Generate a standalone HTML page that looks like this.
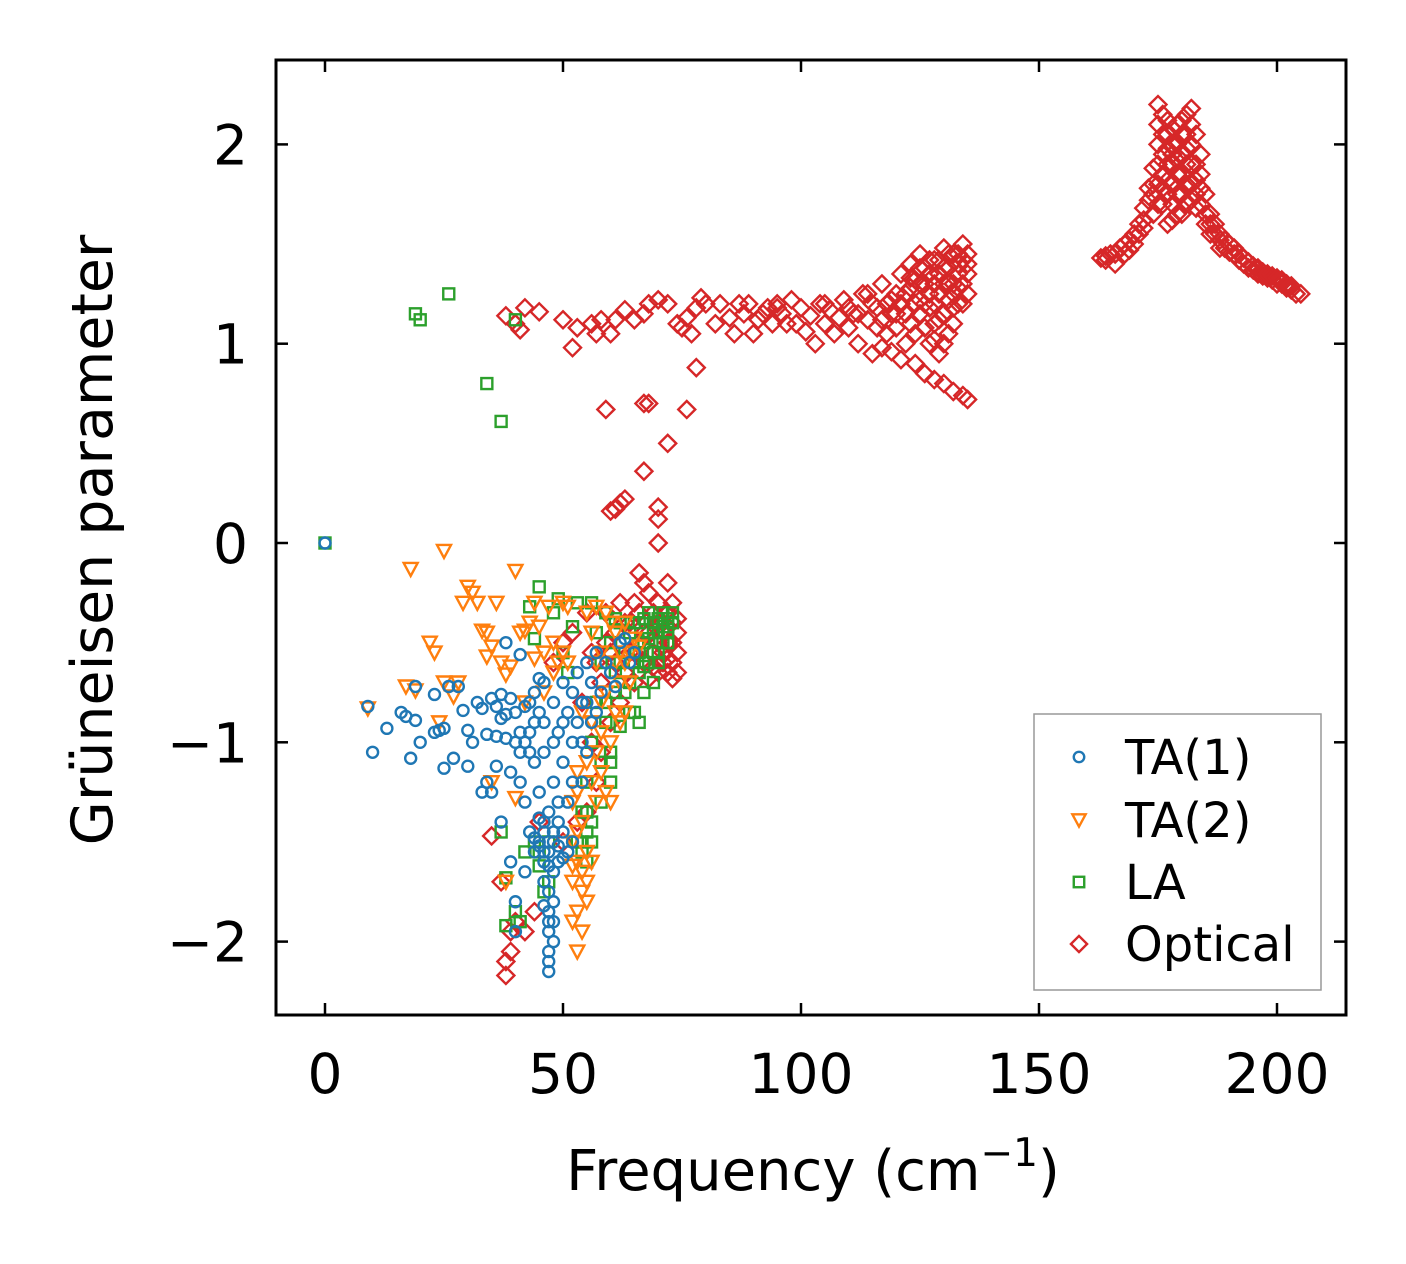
<!DOCTYPE html>
<html><head><meta charset="utf-8"><style>
html,body{margin:0;padding:0;background:#fff;}
svg{display:block;font-family:"DejaVu Sans","Liberation Sans",sans-serif;}
</style></head><body>
<svg id="chart" width="1406" height="1264" viewBox="0 0 1406 1264" xmlns="http://www.w3.org/2000/svg">
<rect x="0" y="0" width="1406" height="1264" fill="#fff"/>
<g id="marks"></g>
<g id="axes"></g>
</svg>
<script>
const xTicks=[0,50,100,150,200];
const yTicks=[-2,-1,0,1,2];
const yTickLabels=["\u22122","\u22121","0","1","2"];
const seriesNames=["TA(1)","TA(2)","LA","Optical"];
const ta1=[[0,0],[9,-0.82],[10,-1.05],[13,-0.93],[16,-0.85],[17,-0.87],[18,-1.08],[19,-0.72],[19,-0.89],[20,-1.0],[23,-0.95],[23,-0.76],[24,-0.94],[25,-0.93],[26,-0.72],[25,-1.13],[27,-1.08],[28,-0.72],[29,-0.84],[30,-0.94],[30,-1.12],[31,-1.0],[32,-0.8],[33,-0.83],[33,-1.25],[34,-0.96],[34,-1.2],[35,-0.78],[35,-1.25],[36,-0.97],[36,-1.12],[37,-0.76],[37,-1.4],[38,-0.5],[38,-0.98],[38,-0.86],[39,-0.78],[39,-1.15],[39,-1.6],[40,-0.85],[40,-1.0],[40,-1.8],[40,-1.95],[41,-0.56],[41,-1.05],[41,-1.2],[42,-1.3],[42,-0.82],[42,-1.65],[43,-0.95],[43,-1.45],[44,-0.75],[44,-1.1],[44,-1.55],[45,-0.68],[45,-0.85],[45,-1.25],[45,-1.5],[46,-0.9],[46,-1.05],[46,-1.4],[46,-1.6],[47,-1.75],[47,-1.85],[47,-1.95],[47,-2.05],[47,-2.15],[48,-1.5],[48,-1.2],[48,-0.8],[48,-2.0],[49,-1.3],[49,-0.95],[49,-1.6],[50,-0.7],[50,-1.1],[50,-1.45],[51,-0.85],[51,-1.55],[52,-0.75],[52,-1.0],[53,-0.9],[53,-0.65],[54,-1.2],[54,-0.8],[55,-0.6],[55,-1.05],[56,-0.7],[57,-0.55],[57,-0.85],[58,-0.75],[59,-0.6],[60,-0.65],[61,-0.72],[62,-0.5],[63,-0.48],[64,-0.6],[65,-0.55],[46,-1.45],[47,-1.55],[48,-1.65],[44,-1.48],[45,-1.52],[50,-1.58],[52,-1.5],[47,-1.35],[47,-1.9],[47,-2.1],[48,-1.8],[46,-1.7],[49,-1.4],[51,-1.3],[43,-1.05],[42,-1.0],[44,-0.9],[46,-0.7],[48,-1.0],[50,-0.9],[52,-1.2],[45,-1.38],[46,-1.55],[48,-1.45],[49,-1.52],[47,-1.62],[46,-1.82],[48,-1.9],[41,-0.95],[37,-0.88],[36,-0.82],[43,-0.8],[55,-0.8],[56,-0.9],[54,-1.0]];
const ta2=[[9,-0.83],[17,-0.72],[18,-0.13],[19,-0.74],[22,-0.5],[23,-0.55],[24,-0.9],[25,-0.04],[25,-0.7],[27,-0.77],[28,-0.7],[29,-0.3],[30,-0.22],[31,-0.25],[32,-0.3],[33,-0.44],[34,-0.45],[34,-0.57],[35,-0.52],[35,-1.2],[36,-0.3],[37,-0.6],[38,-0.66],[38,-1.7],[39,-0.62],[40,-0.14],[40,-1.28],[41,-0.45],[42,-0.44],[42,-0.8],[43,-0.4],[44,-0.3],[44,-0.58],[45,-0.42],[46,-0.55],[46,-0.75],[47,-0.32],[48,-0.5],[48,-0.65],[49,-0.6],[50,-0.3],[50,-0.55],[51,-0.32],[51,-0.6],[52,-1.3],[52,-1.5],[52,-1.7],[52,-1.9],[53,-2.05],[53,-1.6],[53,-1.25],[54,-1.75],[54,-1.4],[55,-1.8],[55,-0.35],[56,-1.6],[56,-0.45],[57,-1.3],[57,-0.32],[58,-0.55],[58,-0.95],[59,-1.25],[59,-0.75],[60,-1.0],[60,-1.3],[61,-0.6],[61,-0.45],[62,-0.7],[62,-0.9],[63,-0.85],[63,-0.6],[64,-0.55],[65,-0.48],[66,-0.52],[53,-1.15],[55,-1.55],[54,-0.85],[53,-1.85],[54,-1.95],[56,-0.9],[58,-1.15],[60,-0.4],[63,-0.4],[59,-0.35],[57,-0.6],[54,-1.65],[55,-1.7],[53,-1.45],[52,-1.62],[56,-1.2],[55,-1.1],[57,-1.05],[58,-0.8],[61,-0.85],[62,-0.55],[64,-0.7]];
const la=[[0,0],[19,1.15],[20,1.12],[26,1.25],[34,0.8],[37,0.61],[40,1.12],[37,-1.45],[38,-1.68],[38,-1.92],[40,-1.85],[41,-1.9],[42,-1.55],[43,-0.32],[45,-0.22],[44,-0.48],[45,-1.62],[46,-1.75],[47,-1.5],[48,-0.35],[49,-0.28],[50,-0.55],[51,-0.65],[52,-0.42],[53,-0.3],[54,-1.55],[54,-1.35],[55,-1.45],[55,-1.2],[56,-0.3],[56,-1.5],[57,-0.45],[57,-0.8],[58,-1.1],[58,-0.6],[59,-0.9],[60,-1.05],[60,-1.2],[60,-0.5],[61,-0.75],[61,-0.38],[62,-0.92],[63,-0.55],[64,-0.45],[64,-0.7],[65,-0.85],[65,-0.6],[66,-0.4],[66,-0.9],[67,-0.5],[67,-0.75],[68,-0.35],[68,-0.6],[69,-0.45],[69,-0.7],[70,-0.38],[70,-0.55],[71,-0.42],[71,-0.35],[72,-0.38],[72,-0.5],[73,-0.4],[59,-0.35],[62,-0.6],[66,-0.65],[68,-0.48],[55,-1.6],[56,-1.0],[58,-1.3],[53,-1.5],[62,-0.4],[65,-0.4],[70,-0.45],[72,-0.45],[67,-0.38],[69,-0.4],[71,-0.5],[55,-1.35],[56,-1.4],[54,-1.5],[60,-1.1],[59,-0.8],[61,-0.65],[63,-0.75],[64,-0.85],[66,-0.55],[67,-0.62],[69,-0.55],[70,-0.6],[72,-0.42],[73,-0.35],[45,-1.55],[44,-1.5],[47,-1.7]];
const optical=[[35,-1.47],[37,-1.7],[38,-2.1],[38,-2.17],[39,-2.05],[39,-1.95],[40,-1.9],[42,-1.95],[44,-1.85],[45,-1.4],[48,-0.6],[50,-0.5],[52,-0.45],[54,-0.8],[55,-0.35],[56,-1.0],[57,-0.6],[58,-0.7],[59,-0.35],[60,-0.55],[61,-0.45],[62,-0.3],[62,-0.8],[63,-0.4],[63,-0.65],[64,-0.55],[65,-0.3],[65,-0.7],[66,-0.15],[66,-0.5],[67,-0.2],[67,-0.6],[68,-0.25],[68,-0.45],[69,-0.35],[69,-0.55],[70,-0.3],[70,-0.65],[71,-0.45],[71,-0.6],[72,-0.2],[72,-0.5],[73,-0.4],[73,-0.6],[74,-0.55],[74,-0.45],[73,-0.5],[72,-0.65],[71,-0.55],[70,-0.5],[74,-0.65],[73,-0.3],[72,-0.35],[60,-0.9],[58,-1.05],[57,-1.2],[55,-1.35],[53,-1.4],[50,-1.5],[71,-0.4],[72,-0.58],[73,-0.68],[74,-0.38],[70,-0.4],[69,-0.62],[68,-0.68],[67,-0.45],[66,-0.35],[65,-0.55],[64,-0.4],[61,-0.6],[59,-0.5],[56,-0.55],
[60,0.16],[61,0.17],[62,0.2],[63,0.22],[67,0.36],[70,0],[70,0.12],[70,0.18],[72,0.5],[68,0.7],[67,0.7],[59,0.67],[76,0.67],[78,0.88],
[38,1.14],[40,1.1],[41,1.07],[42,1.18],[45,1.16],[50,1.12],[52,0.98],[53,1.08],[56,1.1],[57,1.05],[58,1.12],[60,1.05],[61,1.12],[63,1.17],[65,1.12],[67,1.15],[68,1.2],[70,1.22],[72,1.2],[74,1.1],[75,1.08],[76,1.13],[77,1.05],[78,1.18],[79,1.23],[80,1.2],[82,1.1],[83,1.2],[85,1.13],[86,1.05],[88,1.15],[89,1.2],[90,1.05],[91,1.12],[93,1.18],[94,1.1],[95,1.2],[96,1.15],[98,1.22],[99,1.1],[100,1.18],[101,1.06],[102,1.14],[103,1.0],[104,1.2],[105,1.1],[106,1.17],[107,1.05],[108,1.13],[109,1.22],[110,1.08],[111,1.15],[112,1.0],[113,1.25],[114,1.12],[115,0.95],[116,1.18],[117,1.3],[118,1.05],[119,1.22],[120,1.15],[121,1.35],[121,0.92],[122,1.25],[123,1.4],[123,1.1],[124,0.9],[125,1.3],[125,1.45],[126,1.2],[126,0.85],[127,1.35],[128,1.42],[128,1.1],[128,0.82],[129,1.25],[130,1.48],[130,1.15],[130,0.8],[131,1.38],[131,1.05],[132,1.3],[132,1.45],[132,0.76],[133,1.2],[133,1.4],[134,1.5],[134,0.74],[135,1.35],[135,0.72],[135,1.45],[127,1.0],[129,0.95],[122,1.0],[124,1.32],[118,1.2],[116,1.08],[114,1.25],[126,1.38],[133,1.28],[135,1.25],[131,1.22],[119,0.96],[117,0.98],[129,1.35],[127,1.25],[125,1.15],[134,1.3],[132,1.18],[130,1.3],[128,1.3],[120,1.25],[124,1.2],[110,1.18],[112,1.15],[115,1.2],[117,1.12],[119,1.15],[121,1.2],[123,1.28],[125,1.22],[127,1.18],[129,1.12],[131,1.3],[133,1.35],[126,1.3],[128,1.2],[130,1.38],[132,1.25],[134,1.42],[124,1.05],[122,1.15],[120,1.08],[126,1.08],[128,1.02],[130,1.0],[132,1.1],[134,1.2],[135,1.4],[133,1.45],[131,1.45],[129,1.42],[127,1.42],[125,1.38],[123,1.33],[105,1.2],[95,1.18],[92,1.15],[87,1.2],[97,1.1],
[163,1.43],[164,1.42],[165,1.45],[166,1.4],[167,1.48],[168,1.5],[169,1.47],[170,1.55],[171,1.6],[172,1.58],[172,1.68],[173,1.72],[174,1.8],[174,1.65],[175,1.9],[175,2.0],[175,2.1],[175,2.2],[176,1.85],[176,1.95],[176,2.15],[177,1.75],[177,2.05],[177,1.6],[178,1.9],[178,2.0],[178,1.7],[179,1.85],[179,1.65],[179,2.1],[180,1.95],[180,1.75],[180,2.05],[181,1.9],[181,2.15],[182,2.18],[182,2.0],[182,1.8],[183,1.9],[183,2.05],[184,1.85],[184,1.7],[185,1.65],[185,1.75],[186,1.6],[187,1.55],[188,1.52],[189,1.48],[190,1.46],[191,1.45],[192,1.42],[193,1.4],[194,1.38],[195,1.37],[196,1.35],[197,1.34],[198,1.33],[199,1.32],[200,1.3],[201,1.3],[202,1.28],[203,1.27],[204,1.25],[205,1.25],[176,1.7],[174,1.75],[181,1.7],[183,1.75],[185,1.6],[186,1.55],[188,1.48],[177,1.9],[179,2.0],[181,2.05],[178,1.8],[180,1.85],[175,1.8],[175,1.7],[176,2.05],[176,1.78],[177,1.82],[177,1.98],[177,2.12],[178,1.62],[178,1.95],[178,2.08],[179,1.75],[179,1.92],[180,1.65],[180,2.12],[181,1.8],[181,1.98],[182,1.72],[182,1.9],[182,2.1],[183,1.82],[183,1.68],[184,1.78],[184,1.95],[174,1.88],[173,1.78],[172,1.62],[171,1.55],[170,1.5],[169,1.52],[168,1.45],[166,1.45],[164,1.44],[186,1.65],[187,1.6],[188,1.55],[189,1.52],[190,1.5],[191,1.48],[192,1.45],[193,1.43],[194,1.41],[195,1.39],[196,1.38],[197,1.36],[198,1.35],[199,1.34],[200,1.33],[201,1.32],[202,1.3],[203,1.29]];

const L=276,R=1346,T=60,B=1015;
const xs=v=>325+v*(1277-325)/200;
const ys=v=>543-v*199.3;
const NS="http://www.w3.org/2000/svg";
function mk(tag,attrs,parent){const e=document.createElementNS(NS,tag);for(const k in attrs)e.setAttribute(k,attrs[k]);parent.appendChild(e);return e;}
const marks=document.getElementById('marks');
const axes=document.getElementById('axes');
function marker(type,cx,cy,color,parent,s){
  let e;
  if(type==='circle'){e=mk('circle',{cx:cx,cy:cy,r:5.5*s},parent);}
  else if(type==='tri'){e=mk('polygon',{points:`${cx-7*s},${cy-6*s} ${cx+7*s},${cy-6*s} ${cx},${cy+7*s}`},parent);}
  else if(type==='square'){e=mk('rect',{x:cx-5.5*s,y:cy-5.5*s,width:11*s,height:11*s},parent);}
  else {e=mk('polygon',{points:`${cx},${cy-8.5*s} ${cx+8.5*s},${cy} ${cx},${cy+8.5*s} ${cx-8.5*s},${cy}`},parent);}
  e.setAttribute('fill','none');e.setAttribute('stroke',color);e.setAttribute('stroke-width','2.4');
  return e;
}
const defs=[["optical",optical,"diamond","#d62728"],["la",la,"square","#2ca02c"],["ta2",ta2,"tri","#ff7f0e"],["ta1",ta1,"circle","#1f77b4"]];
defs.forEach(([nm,data,type,col])=>{
  const g=mk('g',{},marks);
  
  
  data.forEach(p=>{
    const m=marker(type,xs(p[0]),ys(p[1]),col,g,1);
    
    
  });
});
const frame=mk('rect',{x:L,y:T,width:R-L,height:B-T,fill:'none',stroke:'#000','stroke-width':3},axes);


xTicks.forEach(v=>{
  const x=xs(v);
  mk('line',{x1:x,y1:B,x2:x,y2:B-12,stroke:'#000','stroke-width':2.5},axes);
  mk('line',{x1:x,y1:T,x2:x,y2:T+12,stroke:'#000','stroke-width':2.5},axes);
  const t=mk('text',{x:x,y:1093,'text-anchor':'middle','font-size':55},axes);
  t.textContent=String(v);
  
  
});
yTicks.forEach((v,i)=>{
  const y=ys(v);
  mk('line',{x1:L,y1:y,x2:L+12,y2:y,stroke:'#000','stroke-width':2.5},axes);
  mk('line',{x1:R,y1:y,x2:R-12,y2:y,stroke:'#000','stroke-width':2.5},axes);
  const t=mk('text',{x:248,y:y+20,'text-anchor':'end','font-size':55},axes);
  t.textContent=yTickLabels[i];
  
  
});
const xl=mk('text',{x:813,y:1190,'text-anchor':'middle','font-size':56},axes);
xl.innerHTML='Frequency (cm<tspan dy="-24" font-size="39">\u22121</tspan><tspan dy="24">)</tspan>';


const yl=mk('text',{x:0,y:0,'text-anchor':'middle','font-size':57,transform:'translate(112,540) rotate(-90)'},axes);
yl.textContent='Grüneisen parameter';


const lg=mk('g',{},axes);


mk('rect',{x:1034,y:714,width:287,height:276,fill:'#fff',stroke:'#999','stroke-width':1.5},lg);
const lt=['circle','tri','square','diamond'];
const lc=['#1f77b4','#ff7f0e','#2ca02c','#d62728'];
const ly=[757,820,882,944];
seriesNames.forEach((n,i)=>{
  const m=marker(lt[i],1079,ly[i],lc[i],lg,0.95);
  
  
  const t=mk('text',{x:1125,y:ly[i]+17,'font-size':48},lg);
  t.textContent=n;
  
  
});
</script>
</body></html>
